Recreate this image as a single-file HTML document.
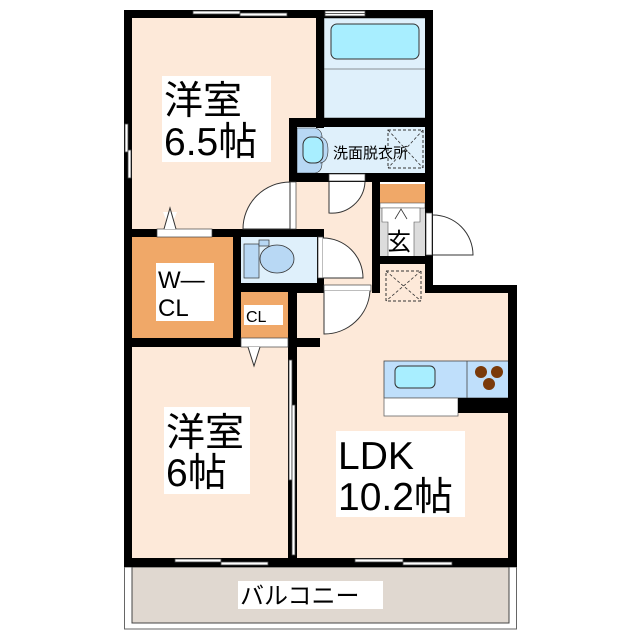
<!DOCTYPE html>
<html><head><meta charset="utf-8"><style>
html,body{margin:0;padding:0;background:#fff}
svg{display:block}
text{font-family:"Liberation Sans","Noto Sans CJK JP",sans-serif;fill:#000}
</style></head><body>
<svg width="640" height="640" viewBox="0 0 640 640" xmlns="http://www.w3.org/2000/svg">
<!-- balcony -->
<rect x="124.5" y="567" width="392" height="62" fill="#fff" stroke="#666" stroke-width="1"/>
<rect x="132" y="567" width="377" height="56" fill="#e0d8d0" stroke="#444" stroke-width="1"/>
<!-- room fills -->
<rect x="132" y="18" width="185" height="212" fill="#fde9d9"/>
<rect x="297" y="182" width="75" height="110" fill="#fde9d9"/>
<rect x="132" y="346" width="157" height="213" fill="#fde9d9"/>
<rect x="297" y="292" width="212" height="267" fill="#fde9d9"/>
<rect x="379" y="264" width="47" height="30" fill="#fde9d9"/>
<!-- bath -->
<rect x="324" y="18" width="102" height="100" fill="#dff0fb" stroke="#333" stroke-width="0.6"/>
<line x1="324" y1="69" x2="426" y2="69" stroke="#333" stroke-width="0.6"/>
<rect x="331" y="24" width="88" height="35" rx="6" fill="#a8eeff" stroke="#333" stroke-width="1"/>
<!-- washroom -->
<rect x="297" y="127" width="129" height="47" fill="#dff0fb"/>
<path d="M297 128 H315 Q322 130 322 137 H320 Q328 138 328 150 Q328 162 320 163 H322 Q322 172 315 173 H297 Z" fill="#b8d8f4" stroke="#333" stroke-width="0.6"/>
<rect x="303" y="137" width="20" height="26" rx="8" fill="#a8eeff" stroke="#333" stroke-width="1"/>
<rect x="388" y="130" width="35" height="38" fill="none" stroke="#333" stroke-width="1" stroke-dasharray="3,2"/>
<path d="M388 130 L423 168 M423 130 L388 168" stroke="#333" stroke-width="0.8" stroke-dasharray="3,2"/>
<rect x="333" y="140" width="96" height="22" fill="#fff" opacity="0"/>
<text x="333" y="158" font-size="15">洗面脱衣所</text>
<!-- WCL & CL -->
<rect x="132" y="237" width="101" height="101" fill="#f0a868"/>
<rect x="241" y="292" width="47" height="46" fill="#f0a868"/>
<!-- toilet -->
<rect x="241" y="237" width="77" height="46" fill="#dff0fb"/>
<rect x="244" y="244" width="15" height="34" fill="#b8d8f4" stroke="#333" stroke-width="0.7"/>
<rect x="259" y="240" width="10" height="6" fill="#b8d8f4" stroke="#333" stroke-width="0.7"/>
<ellipse cx="277" cy="259" rx="17" ry="14" fill="#b8d8f4" stroke="#333" stroke-width="0.8"/>
<!-- genkan -->
<rect x="380" y="184" width="46" height="19" fill="#f0a868"/>
<rect x="375" y="203" width="51" height="54" fill="#dcdcdc"/>
<rect x="380" y="203" width="45" height="5" fill="#fff" stroke="#555" stroke-width="0.6"/>
<path d="M382 208 V222 H388 V257 H414 V222 H420 V208 Z" fill="#fff" stroke="#555" stroke-width="0.6"/>
<path d="M395 219 L401 209 L407 219" fill="none" stroke="#333" stroke-width="0.8"/>
<text x="387" y="250" font-size="24">玄</text>
<rect x="386" y="271" width="35" height="30" fill="none" stroke="#333" stroke-width="1" stroke-dasharray="3,2"/>
<path d="M386 271 L421 301 M421 271 L386 301" stroke="#333" stroke-width="0.8" stroke-dasharray="3,2"/>
<!-- kitchen -->
<rect x="384" y="361" width="125" height="37" fill="#bfdffb" stroke="#444" stroke-width="0.8"/>
<line x1="467" y1="361" x2="467" y2="398" stroke="#444" stroke-width="0.8"/>
<rect x="395" y="366" width="40" height="22" rx="5" fill="#a8eeff" stroke="#333" stroke-width="1"/>
<circle cx="481" cy="372" r="6" fill="#7a3a0a"/><circle cx="497" cy="372" r="6" fill="#7a3a0a"/><circle cx="489" cy="384" r="6" fill="#7a3a0a"/>
<rect x="384" y="398" width="74" height="18" fill="#fff" stroke="#666" stroke-width="0.8"/>
<rect x="458" y="398" width="51" height="15" fill="#000"/>
<!-- walls -->
<g fill="#000">
<rect x="124" y="10" width="309" height="8"/>
<rect x="124" y="10" width="8" height="557"/>
<rect x="425" y="10" width="8" height="283"/>
<rect x="425" y="285" width="92" height="8"/>
<rect x="508" y="285" width="9" height="282"/>
<rect x="124" y="558" width="393" height="9"/>
<rect x="316" y="10" width="8" height="118"/>
<rect x="289" y="118" width="144" height="9"/>
<rect x="289" y="118" width="8" height="64"/>
<rect x="289" y="173" width="144" height="9"/>
<rect x="372" y="173" width="8" height="120"/>
<rect x="372" y="256" width="61" height="8"/>
<rect x="124" y="229" width="200" height="8"/>
<rect x="233" y="229" width="8" height="118"/>
<rect x="317" y="229" width="7" height="63"/>
<rect x="241" y="283" width="83" height="9"/>
<rect x="289" y="285" width="35" height="8"/>
<rect x="288" y="283" width="9" height="284"/>
<rect x="124" y="338" width="196" height="9"/>
</g>
<!-- windows -->
<g fill="#fff" stroke="#444" stroke-width="0.8">
<rect x="193" y="11" width="47" height="3"/><rect x="240" y="13" width="47" height="3"/>
<rect x="325" y="11" width="40" height="2.5"/><rect x="325" y="13.5" width="40" height="2.5"/>
<rect x="125" y="124" width="3" height="28"/><rect x="128" y="150" width="3" height="28"/>
<rect x="175" y="559" width="46" height="3"/><rect x="221" y="562" width="47" height="3"/>
<rect x="355" y="559" width="48" height="3"/><rect x="403" y="562" width="49" height="3"/>
<rect x="289" y="360" width="3" height="120"/><rect x="292" y="405" width="3" height="150"/>
</g>
<!-- door openings -->
<g fill="#fff" stroke="#444" stroke-width="0.7">
<rect x="157" y="229" width="55" height="8"/>
<rect x="241" y="338" width="47" height="9"/>
<rect x="290" y="182" width="6" height="47"/>
<rect x="329" y="174" width="36" height="7"/>
<rect x="318" y="237" width="5" height="41"/>
<rect x="324" y="285" width="47" height="6"/>
<rect x="426" y="213" width="6" height="42"/>
</g>
<!-- door arcs -->
<g fill="#fff" stroke="#333" stroke-width="1">
<path d="M290 229 V182 A47 47 0 0 0 243 229 Z" />
<path d="M329 182 V213 A33 33 0 0 0 365 182" />
<path d="M323 278 H363 A40 40 0 0 0 323 238" />
<path d="M324 291 V334 A46 46 0 0 0 370 291" />
<path d="M433 255 H473 A40 40 0 0 0 433 215" />
<path d="M170 229 L163 212 L177 212 Z" stroke-width="0"/>
<path d="M164 229 L170 208 L176 229" fill="#fff"/>
<path d="M248 347 L254 366 L260 347" fill="#fff"/>
</g>
<!-- labels -->
<rect x="162" y="76" width="109" height="86" fill="#fff"/>
<text x="164" y="114" font-size="39">洋室</text>
<text x="164" y="155" font-size="39">6.5帖</text>
<rect x="164" y="407" width="86" height="87" fill="#fff"/>
<text x="166" y="446" font-size="39">洋室</text>
<text x="166" y="486" font-size="39">6帖</text>
<rect x="336" y="431" width="129" height="86" fill="#fff"/>
<text x="338" y="469" font-size="39">LDK</text>
<text x="338" y="510" font-size="39">10.2帖</text>
<rect x="238" y="581" width="145" height="28" fill="#fff"/>
<text x="240" y="604" font-size="24">バルコニー</text>
<rect x="156" y="263" width="58" height="58" fill="#fff"/>
<text x="158" y="288" font-size="24">W—</text>
<text x="158" y="316" font-size="24">CL</text>
<rect x="244" y="305" width="39" height="20" fill="#fff"/>
<text x="246" y="322" font-size="16">CL</text>
</svg>
</body></html>
